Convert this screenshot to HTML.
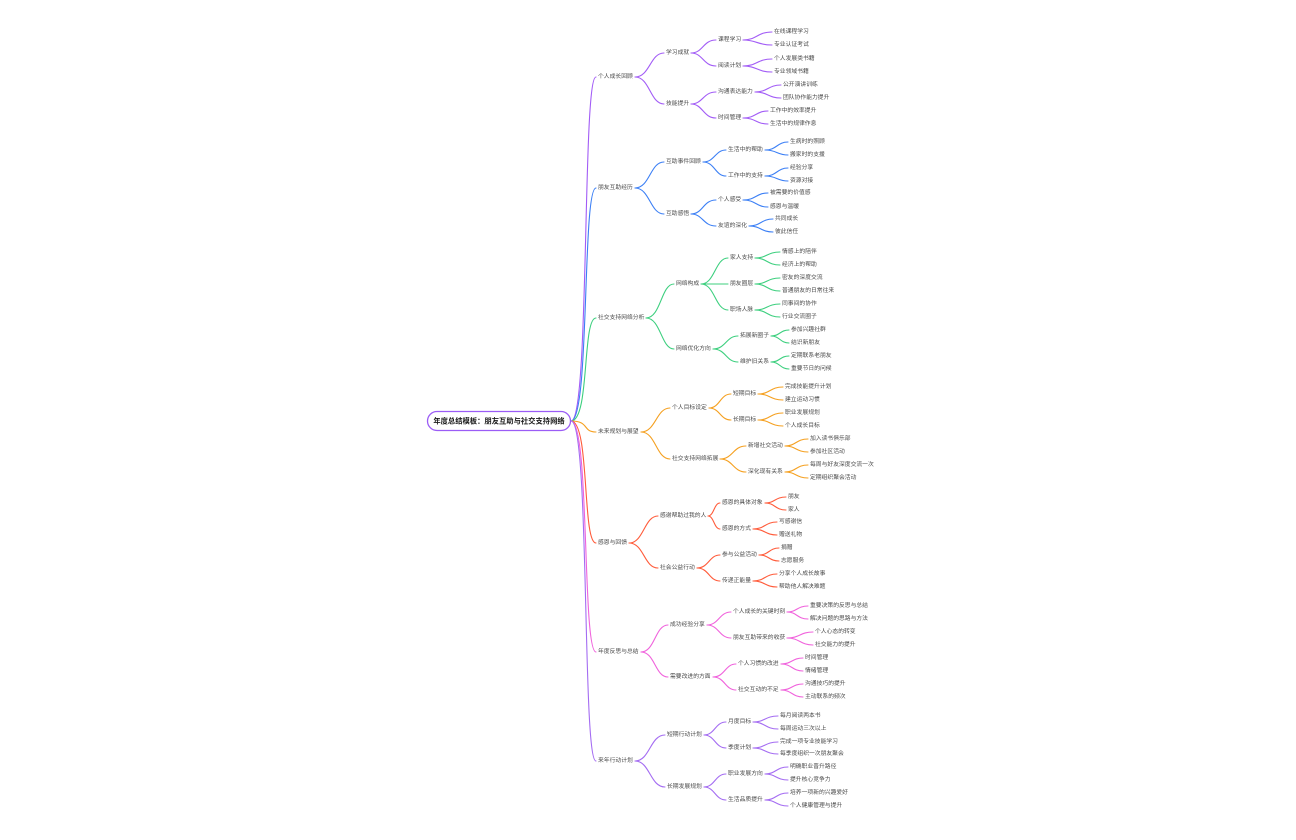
<!DOCTYPE html>
<html><head><meta charset="utf-8"><style>
html,body{margin:0;padding:0;background:#fff;}
svg{display:block;}
text{font-family:"Liberation Sans","Noto Sans CJK SC",sans-serif;font-size:5.8px;fill:#4a4a4a;dominant-baseline:central;}
path{fill:none;stroke-width:1.1;stroke-linecap:round;}
</style></head><body>
<svg width="1296" height="840" viewBox="0 0 1296 840" xmlns="http://www.w3.org/2000/svg">
<g style="stroke-width:1.4">
<path stroke="#a25cf6" d="M571,421 C590,421 582,77 596,77"/>
<path stroke="#3b7ff5" d="M571,421 C590,421 582,188 596,188"/>
<path stroke="#3ccf7e" d="M571,421 C590,421 582,318 596,318"/>
<path stroke="#f5a020" d="M571,421 C590,421 582,432 596,432"/>
<path stroke="#ff5b3a" d="M571,421 C590,421 582,543 596,543"/>
<path stroke="#f062dc" d="M571,421 C590,421 582,652 596,652"/>
<path stroke="#a46cf2" d="M571,421 C590,421 582,761 596,761"/>
</g>
<rect x="427.5" y="411.5" width="143" height="19" rx="9.5" fill="#fff" stroke="#9b5cf6" stroke-width="1.3"/>
<text x="499" y="421" text-anchor="middle" style="font-size:7.3px;font-weight:bold;fill:#1a1a1a">年度总结模板：朋友互助与社交支持网络</text>

<g stroke="#a25cf6">
<path d="M635,77 C650,77 650,53 664,53"/><path d="M635,77 C650,77 650,104 664,104"/>
<path d="M691,53 C703,53 703,40 716,40"/><path d="M691,53 C703,53 703,66 716,66"/>
<path d="M691,104 C703,104 703,92 716,92"/><path d="M691,104 C703,104 703,118 716,118"/>
<path d="M743,40 C757,40 757,32 772,32"/><path d="M743,40 C757,40 757,45 772,45"/>
<path d="M743,66 C757,66 757,59 772,59"/><path d="M743,66 C757,66 757,72 772,72"/>
<path d="M755,92 C768,92 768,85 781,85"/><path d="M755,92 C768,92 768,98 781,98"/>
<path d="M743,118 C756,118 756,111 768,111"/><path d="M743,118 C756,118 756,124 768,124"/>
</g>
<text x="598" y="77">个人成长回顾</text>
<text x="666" y="53">学习成就</text><text x="666" y="104">技能提升</text>
<text x="718" y="40">课程学习</text><text x="718" y="66">阅读计划</text><text x="718" y="92">沟通表达能力</text><text x="718" y="118">时间管理</text>
<text x="774" y="32">在线课程学习</text><text x="774" y="45">专业认证考试</text>
<text x="774" y="59">个人发展类书籍</text><text x="774" y="72">专业领域书籍</text>
<text x="783" y="85">公开演讲训练</text><text x="783" y="98">团队协作能力提升</text>
<text x="770" y="111">工作中的效率提升</text><text x="770" y="124">生活中的规律作息</text>

<g stroke="#3b7ff5">
<path d="M635,188 C650,188 650,162 664,162"/><path d="M635,188 C650,188 650,214 664,214"/>
<path d="M703,162 C715,162 715,150 726,150"/><path d="M703,162 C715,162 715,176 726,176"/>
<path d="M691,214 C703,214 703,200 716,200"/><path d="M691,214 C703,214 703,226 716,226"/>
<path d="M765,150 C777,150 777,142 788,142"/><path d="M765,150 C777,150 777,155 788,155"/>
<path d="M765,176 C777,176 777,168 788,168"/><path d="M765,176 C777,176 777,181 788,181"/>
<path d="M743,200 C756,200 756,193 768,193"/><path d="M743,200 C756,200 756,207 768,207"/>
<path d="M749,226 C761,226 761,219 773,219"/><path d="M749,226 C761,226 761,232 773,232"/>
</g>
<text x="598" y="188">朋友互助经历</text>
<text x="666" y="162">互助事件回顾</text><text x="666" y="214">互助感悟</text>
<text x="728" y="150">生活中的帮助</text><text x="728" y="176">工作中的支持</text><text x="718" y="200">个人感受</text><text x="718" y="226">友谊的深化</text>
<text x="790" y="142">生病时的照顾</text><text x="790" y="155">搬家时的支援</text>
<text x="790" y="168">经验分享</text><text x="790" y="181">资源对接</text>
<text x="770" y="193">被需要的价值感</text><text x="770" y="207">感恩与温暖</text>
<text x="775" y="219">共同成长</text><text x="775" y="232">彼此信任</text>

<g stroke="#3ccf7e">
<path d="M646,318 C661,318 661,284 674,284"/><path d="M646,318 C661,318 661,349 674,349"/>
<path d="M701,284 C715,284 715,258 728,258"/><path d="M701,284 L728,284"/><path d="M701,284 C715,284 715,310 728,310"/>
<path d="M713,349 C726,349 726,336 738,336"/><path d="M713,349 C726,349 726,362 738,362"/>
<path d="M755,258 C767,258 767,252 780,252"/><path d="M755,258 C767,258 767,265 780,265"/>
<path d="M755,284 C767,284 767,278 780,278"/><path d="M755,284 C767,284 767,291 780,291"/>
<path d="M755,310 C767,310 767,304 780,304"/><path d="M755,310 C767,310 767,317 780,317"/>
<path d="M771,336 C780,336 780,330 789,330"/><path d="M771,336 C780,336 780,343 789,343"/>
<path d="M771,362 C780,362 780,356 789,356"/><path d="M771,362 C780,362 780,369 789,369"/>
</g>
<text x="598" y="318">社交支持网络分析</text>
<text x="676" y="284">网络构成</text><text x="676" y="349">网络优化方向</text>
<text x="730" y="258">家人支持</text><text x="730" y="284">朋友圈层</text><text x="730" y="310">职场人脉</text>
<text x="740" y="336">拓展新圈子</text><text x="740" y="362">维护旧关系</text>
<text x="782" y="252">情感上的陪伴</text><text x="782" y="265">经济上的帮助</text>
<text x="782" y="278">密友的深度交流</text><text x="782" y="291">普通朋友的日常往来</text>
<text x="782" y="304">同事间的协作</text><text x="782" y="317">行业交流圈子</text>
<text x="791" y="330">参加兴趣社群</text><text x="791" y="343">结识新朋友</text>
<text x="791" y="356">定期联系老朋友</text><text x="791" y="369">重要节日的问候</text>

<g stroke="#f5a020">
<path d="M641,432 C656,432 656,408 670,408"/><path d="M641,432 C656,432 656,459 670,459"/>
<path d="M709,408 C720,408 720,394 731,394"/><path d="M709,408 C720,408 720,420 731,420"/>
<path d="M720,459 C733,459 733,446 746,446"/><path d="M720,459 C733,459 733,472 746,472"/>
<path d="M758,394 C770,394 770,387 783,387"/><path d="M758,394 C770,394 770,400 783,400"/>
<path d="M758,420 C770,420 770,413 783,413"/><path d="M758,420 C770,420 770,426 783,426"/>
<path d="M785,446 C796,446 796,439 808,439"/><path d="M785,446 C796,446 796,452 808,452"/>
<path d="M785,472 C796,472 796,465 808,465"/><path d="M785,472 C796,472 796,478 808,478"/>
</g>
<text x="598" y="432">未来规划与展望</text>
<text x="672" y="408">个人目标设定</text><text x="672" y="459">社交支持网络拓展</text>
<text x="733" y="394">短期目标</text><text x="733" y="420">长期目标</text>
<text x="748" y="446">新增社交活动</text><text x="748" y="472">深化现有关系</text>
<text x="785" y="387">完成技能提升计划</text><text x="785" y="400">建立运动习惯</text>
<text x="785" y="413">职业发展规划</text><text x="785" y="426">个人成长目标</text>
<text x="810" y="439">加入读书俱乐部</text><text x="810" y="452">参加社区活动</text>
<text x="810" y="465">每周与好友深度交流一次</text><text x="810" y="478">定期组织聚会活动</text>

<g stroke="#ff5b3a">
<path d="M629,543 C644,543 644,516 658,516"/><path d="M629,543 C644,543 644,568 658,568"/>
<path d="M708,516 C714,516 714,503 720,503"/><path d="M708,516 C714,516 714,529 720,529"/>
<path d="M697,568 C709,568 709,555 720,555"/><path d="M697,568 C709,568 709,581 720,581"/>
<path d="M765,503 C775,503 775,497 786,497"/><path d="M765,503 C775,503 775,510 786,510"/>
<path d="M753,529 C765,529 765,522 777,522"/><path d="M753,529 C765,529 765,535 777,535"/>
<path d="M759,555 C769,555 769,548 779,548"/><path d="M759,555 C769,555 769,561 779,561"/>
<path d="M753,581 C765,581 765,574 777,574"/><path d="M753,581 C765,581 765,587 777,587"/>
</g>
<text x="598" y="543">感恩与回馈</text>
<text x="660" y="516">感谢帮助过我的人</text><text x="660" y="568">社会公益行动</text>
<text x="722" y="503">感恩的具体对象</text><text x="722" y="529">感恩的方式</text>
<text x="722" y="555">参与公益活动</text><text x="722" y="581">传递正能量</text>
<text x="788" y="497">朋友</text><text x="788" y="510">家人</text>
<text x="779" y="522">写感谢信</text><text x="779" y="535">赠送礼物</text>
<text x="781" y="548">捐赠</text><text x="781" y="561">志愿服务</text>
<text x="779" y="574">分享个人成长故事</text><text x="779" y="587">帮助他人解决难题</text>

<g stroke="#f062dc">
<path d="M641,652 C655,652 655,625 668,625"/><path d="M641,652 C655,652 655,677 668,677"/>
<path d="M707,625 C719,625 719,612 731,612"/><path d="M707,625 C719,625 719,638 731,638"/>
<path d="M713,677 C725,677 725,664 736,664"/><path d="M713,677 C725,677 725,690 736,690"/>
<path d="M787,612 C797,612 797,606 808,606"/><path d="M787,612 C797,612 797,619 808,619"/>
<path d="M787,638 C800,638 800,632 813,632"/><path d="M787,638 C800,638 800,645 813,645"/>
<path d="M781,664 C792,664 792,658 803,658"/><path d="M781,664 C792,664 792,671 803,671"/>
<path d="M781,690 C792,690 792,684 803,684"/><path d="M781,690 C792,690 792,697 803,697"/>
</g>
<text x="598" y="652">年度反思与总结</text>
<text x="670" y="625">成功经验分享</text><text x="670" y="677">需要改进的方面</text>
<text x="733" y="612">个人成长的关键时刻</text><text x="733" y="638">朋友互助带来的收获</text>
<text x="738" y="664">个人习惯的改进</text><text x="738" y="690">社交互动的不足</text>
<text x="810" y="606">重要决策的反思与总结</text><text x="810" y="619">解决问题的思路与方法</text>
<text x="815" y="632">个人心态的转变</text><text x="815" y="645">社交能力的提升</text>
<text x="805" y="658">时间管理</text><text x="805" y="671">情绪管理</text>
<text x="805" y="684">沟通技巧的提升</text><text x="805" y="697">主动联系的频次</text>

<g stroke="#a46cf2">
<path d="M635,761 C650,761 650,735 665,735"/><path d="M635,761 C650,761 650,787 665,787"/>
<path d="M704,735 C715,735 715,722 726,722"/><path d="M704,735 C715,735 715,748 726,748"/>
<path d="M704,787 C715,787 715,774 726,774"/><path d="M704,787 C715,787 715,800 726,800"/>
<path d="M753,722 C765,722 765,716 778,716"/><path d="M753,722 C765,722 765,729 778,729"/>
<path d="M753,748 C765,748 765,742 778,742"/><path d="M753,748 C765,748 765,754 778,754"/>
<path d="M765,774 C776,774 776,767 788,767"/><path d="M765,774 C776,774 776,780 788,780"/>
<path d="M765,800 C776,800 776,793 788,793"/><path d="M765,800 C776,800 776,806 788,806"/>
</g>
<text x="598" y="761">来年行动计划</text>
<text x="667" y="735">短期行动计划</text><text x="667" y="787">长期发展规划</text>
<text x="728" y="722">月度目标</text><text x="728" y="748">季度计划</text>
<text x="728" y="774">职业发展方向</text><text x="728" y="800">生活品质提升</text>
<text x="780" y="716">每月阅读两本书</text><text x="780" y="729">每周运动三次以上</text>
<text x="780" y="742">完成一项专业技能学习</text><text x="780" y="754">每季度组织一次朋友聚会</text>
<text x="790" y="767">明确职业晋升路径</text><text x="790" y="780">提升核心竞争力</text>
<text x="790" y="793">培养一项新的兴趣爱好</text><text x="790" y="806">个人健康管理与提升</text>
</svg>
</body></html>
